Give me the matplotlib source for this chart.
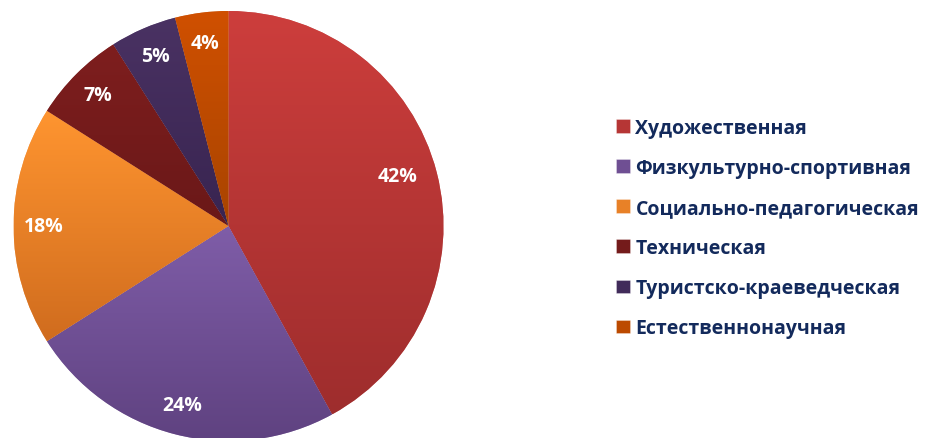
import numpy as np
import matplotlib
matplotlib.use("Agg")
import matplotlib.pyplot as plt
from matplotlib.colors import LinearSegmentedColormap, to_rgb

categories = ["Художественная", "Физкультурно-спортивная", "Социально-педагогическая",
              "Техническая", "Туристско-краеведческая", "Естественнонаучная"]
values = [42, 24, 18, 7, 5, 4]
top_colors = ["#CD3E3C", "#7F5DA8", "#FF9530", "#7E1E1E", "#4A3263", "#D05000"]
bottom_colors = ["#9E2D2D", "#5E417F", "#D06C1E", "#6A1818", "#382450", "#A84400"]

W, H = 925, 439
fig = plt.figure(figsize=(W / 100, H / 100), dpi=100)
ax = fig.add_axes([0, 0, 1, 1])

cx, cy, R = 228.5, H - 227, 215
FONT = ["Open Sans", "DejaVu Sans"]

mid_colors = []
for t, b in zip(top_colors, bottom_colors):
    mid_colors.append(tuple((np.array(to_rgb(t)) + np.array(to_rgb(b))) / 2))

wedges, texts, autotexts = ax.pie(
    values, colors=mid_colors, startangle=90, counterclock=False,
    center=(cx, cy), radius=R, autopct="%d%%", pctdistance=0.86,
    wedgeprops=dict(edgecolor=(1, 1, 1, 0.35), linewidth=0.6),
    textprops=dict(color="white", fontsize=14, fontweight="bold", family=FONT),
)
ax.set_xlim(0, W)
ax.set_ylim(0, H)
ax.set_aspect("equal")
ax.axis("off")

autotexts[0].set_position((cx + 0.82 * R * np.cos(np.radians(16.5)), cy + 0.82 * R * np.sin(np.radians(16.5))))

for w, t, b in zip(wedges, top_colors, bottom_colors):
    path = w.get_path()
    verts = w.get_patch_transform().transform(path.vertices)
    x0, x1 = verts[:, 0].min(), verts[:, 0].max()
    y0, y1 = verts[:, 1].min(), verts[:, 1].max()
    cmap = LinearSegmentedColormap.from_list("g", [b, t])
    grad = np.linspace(0, 1, 256).reshape(-1, 1)
    im = ax.imshow(grad, cmap=cmap, extent=(x0, x1, y0, y1), origin="lower",
                   aspect="auto", zorder=w.get_zorder() + 0.1, interpolation="bilinear")
    im.set_clip_path(w)
for at in autotexts:
    at.set_zorder(5)

leg = ax.legend(wedges, categories, loc="upper left", bbox_to_anchor=(616 / W, 1 - 119 / H),
                frameon=False, handlelength=0.7, handleheight=0.7,
                handletextpad=0.3, labelspacing=1.03, borderpad=0, borderaxespad=0,
                prop=dict(family=FONT, weight="bold", size=14))
for txt in leg.get_texts():
    txt.set_color("#132A5C")

fig.savefig("out.png", dpi=100)
